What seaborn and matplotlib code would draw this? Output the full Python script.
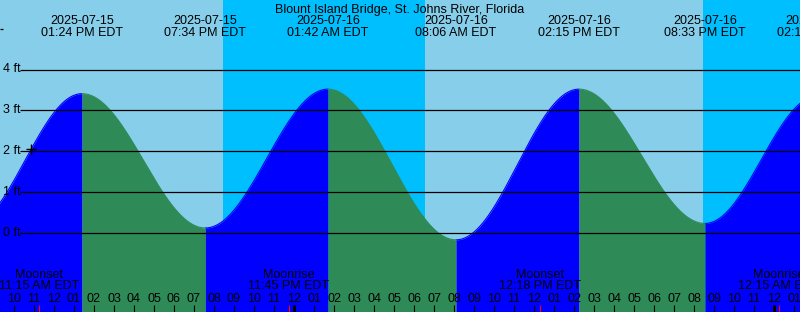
import numpy as np
import pandas as pd
import matplotlib
matplotlib.use("Agg")
import matplotlib.pyplot as plt
import seaborn as sns

# ---- data ----
title = "Blount Island Bridge, St. Johns River, Florida"
tide_times = ["2025-07-15 07:42", "2025-07-15 13:24", "2025-07-15 19:34",
              "2025-07-16 01:42", "2025-07-16 08:06", "2025-07-16 14:15",
              "2025-07-16 20:33", "2025-07-17 02:10"]
tide_heights = [0.15, 3.41, 0.13, 3.52, -0.16, 3.52, 0.24, 3.35]
sun_events = ["2025-07-15 20:26", "2025-07-16 06:33", "2025-07-16 20:26"]  # set, rise, set
moon_times = ["2025-07-15 11:15", "2025-07-15 23:45", "2025-07-16 12:18", "2025-07-17 00:15"]
moon_names = ["Moonset", "Moonrise", "Moonset", "Moonrise"]
y_ticks_ft = [0, 1, 2, 3, 4]
now_time = "2025-07-15 10:51"

# ---- styling ----
C_DAY = "#87CEEB"
C_NIGHT = "#00BFFF"
C_RISE = "#0000FF"
C_FALL = "#2E8B57"

sns.set_theme(style="white")
plt.rcParams["font.family"] = ["Liberation Sans", "DejaVu Sans"]

base = pd.Timestamp("2025-07-15 00:00")
def hrs(s):
    return (pd.Timestamp(s) - base) / pd.Timedelta(hours=1)

ext_t = np.array([hrs(s) for s in tide_times])
ext_h = np.array(tide_heights)

# pixel mapping helpers (layout only)
PX_PER_H = 20.0
T_LEFT = 10 - 14 / PX_PER_H
T_RIGHT = T_LEFT + 800 / PX_PER_H
Y0 = 233.3
PX_PER_FT = 40.95
def ypx(p):
    return (Y0 - p) / PX_PER_FT
FT_TOP = ypx(0)
FT_BOT = ypx(312)

# tide curve between extremes (cosine between successive high/low)
rows = []
for i in range(len(ext_t) - 1):
    tt = np.linspace(ext_t[i], ext_t[i + 1], 200)
    frac = (tt - ext_t[i]) / (ext_t[i + 1] - ext_t[i])
    hh = ext_h[i] + (ext_h[i + 1] - ext_h[i]) * (1 - np.cos(np.pi * frac)) / 2
    phase = "rise" if ext_h[i + 1] > ext_h[i] else "fall"
    for a, b in zip(tt, hh):
        rows.append((a, b, phase, i))
df = pd.DataFrame(rows, columns=["t", "h", "phase", "seg"])

fig = plt.figure(figsize=(8, 3.12), dpi=100)
ax = fig.add_axes([0, 0, 1, 1])
ax.set_xlim(T_LEFT, T_RIGHT)
ax.set_ylim(FT_BOT, FT_TOP)
ax.axis("off")

# day / night background
sun_t = [hrs(s) for s in sun_events]
ax.axvspan(T_LEFT, sun_t[0], color=C_DAY, lw=0, zorder=0)
ax.axvspan(sun_t[0], sun_t[1], color=C_NIGHT, lw=0, zorder=0)
ax.axvspan(sun_t[1], sun_t[2], color=C_DAY, lw=0, zorder=0)
ax.axvspan(sun_t[2], T_RIGHT + 5, color=C_NIGHT, lw=0, zorder=0)

# tide fill
for seg, g in df.groupby("seg"):
    col = C_RISE if g["phase"].iloc[0] == "rise" else C_FALL
    ax.fill_between(g["t"], FT_BOT - 1, g["h"], color=col, lw=0, zorder=1)
sns.lineplot(data=df, x="t", y="h", hue="phase", units="seg", estimator=None,
             palette={"rise": C_RISE, "fall": C_FALL}, legend=False, lw=0.8,
             ax=ax, zorder=2)
ax.set_xlim(T_LEFT, T_RIGHT)
ax.set_ylim(FT_BOT, FT_TOP)
ax.axis("off")

# grid lines and y labels
x_grid0 = T_LEFT + 20 / PX_PER_H
for v in y_ticks_ft:
    ax.hlines(v, x_grid0, T_RIGHT, color="black", lw=0.9, zorder=3)
    ax.text(T_LEFT + 3 / PX_PER_H, v, f"{v} ft", fontsize=9, ha="left",
            va="center", color="black", zorder=4)
ax.hlines(5, T_LEFT, T_LEFT + 3 / PX_PER_H, color="black", lw=0.9, zorder=3)

# current-time marker
tn = hrs(now_time)
hn = np.interp(tn, df["t"], df["h"])
ax.plot([tn], [hn], marker="+", ms=7, mew=1.0, color="black", zorder=5)

# title and tide extreme labels
ax.text((T_LEFT + T_RIGHT) / 2, ypx(12.7), title, fontsize=9, ha="center",
        va="baseline", color="black", zorder=6)
for s, t in zip(tide_times[1:], ext_t[1:]):
    ts = pd.Timestamp(s)
    ax.text(t, ypx(24), ts.strftime("%Y-%m-%d"), fontsize=9, ha="center",
            va="baseline", color="black", zorder=6, clip_on=True)
    ax.text(t, ypx(36), ts.strftime("%I:%M %p EDT"), fontsize=9, ha="center",
            va="baseline", color="black", zorder=6, clip_on=True)

# moon labels
for s, name in zip(moon_times, moon_names):
    t = hrs(s)
    ts = pd.Timestamp(s)
    ax.text(t, ypx(278.3), name, fontsize=9, ha="center", va="baseline",
            color="black", zorder=6, clip_on=True)
    ax.text(t, ypx(289.3), ts.strftime("%I:%M %p EDT"), fontsize=9,
            ha="center", va="baseline", color="black", zorder=6, clip_on=True)

# hour labels and ticks
hours = np.arange(10, 50)
for h in hours:
    lab = f"{((h - 1) % 12) + 1:02d}"
    ax.text(h, ypx(301.7), lab, fontsize=9, ha="center", va="baseline",
            color="black", zorder=6, clip_on=True)
    ax.vlines(h, ypx(312), ypx(305), color="black", lw=0.8, zorder=6)
for h in [24, 48]:
    ax.vlines(h, ypx(312), ypx(305), color="black", lw=2.2, zorder=6)
for s in moon_times:
    ax.vlines(hrs(s), ypx(312), ypx(305), color="red", lw=0.8, zorder=7)

fig.savefig("out.png", dpi=100)
